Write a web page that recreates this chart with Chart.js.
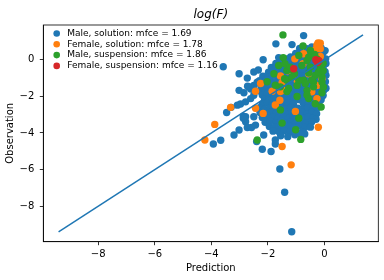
<!DOCTYPE html>
<html><head><meta charset="utf-8">
<script src="https://cdn.jsdelivr.net/npm/chart.js@4.4.1/dist/chart.umd.min.js"></script>
<style>html,body{margin:0;padding:0;background:#fff;}</style>
</head><body>
<canvas id="c" width="384" height="280"></canvas>
<script>
// ---- data ----
const seriesLabels = [
  'Male, solution: mfce = 1.69',
  'Female, solution: mfce = 1.78',
  'Male, suspension: mfce = 1.86',
  'Female, suspension: mfce = 1.16'
];
const seriesColors = ['#1f77b4', '#ff7f0e', '#2ca02c', '#d62728'];

const maleSolution = [
  [-3.58,-0.38],[-3.02,-0.76],[-2.73,-1.0],[-2.5,-0.67],[-2.34,-0.56],[-2.17,0.0],[-1.72,0.87],[-1.15,0.83],[-0.74,1.32],
  [-2.67,-1.49],[-2.5,-1.4],[-2.61,-1.6],[-2.38,-1.22],[-3.02,-1.67],[-2.72,-1.45],[-2.85,-1.8],
  [-3.08,-2.48],[-2.97,-2.42],[-2.79,-2.3],[-2.61,-2.12],[-2.5,-1.94],[-3.46,-2.88],[-3.3,-2.6],
  [-2.79,-3.11],[-2.79,-3.39],[-2.5,-3.11],[-2.44,-3.57],[-3.02,-3.84],[-3.2,-4.11],[-2.73,-3.7],[-2.58,-3.7],
  [-2.87,-3.08],[-2.87,-3.2],
  [-3.67,-4.4],[-3.93,-4.6],[-2.4,-4.47],[-2.2,-4.89],[-1.89,-5.01],[-2.15,-4.11],[-1.74,-4.38],[-1.74,-4.6],
  [-1.58,-5.97],[-1.41,-7.24],[-1.16,-9.4],
  [-0.88,0.62],[-0.62,0.6],[-0.45,0.7],[-0.3,0.55],[-0.12,0.65],[0.02,0.5],
  [-1.02,0.35],[-0.85,0.4],[-0.66,0.3],[-0.5,0.23],[-0.38,0.4],[-0.2,0.32],[-0.05,0.38],
  [-1.62,0.12],[-1.35,0.05],[-1.2,0.15],[-1.0,0.1],[-0.82,0.05],[-0.68,0.15],[-0.42,0.08],[-0.15,0.12],[0.04,0.05],
  [-1.72,-0.2],[-1.55,-0.1],[-1.38,-0.18],[-1.2,-0.1],[-1.05,-0.2],[-0.9,-0.12],[-0.7,-0.2],[-0.55,-0.1],[-0.4,-0.18],[-0.1,-0.15],[0.05,-0.2],
  [-1.88,-0.42],[-1.72,-0.35],[-1.55,-0.45],[-1.35,-0.38],[-1.2,-0.42],[-0.95,-0.35],[-0.8,-0.45],[-0.62,-0.4],[-0.45,-0.5],[-0.25,-0.4],[-0.05,-0.45],
  [-1.98,-0.68],[-1.8,-0.6],[-1.62,-0.7],[-1.45,-0.62],[-1.25,-0.7],[-1.05,-0.65],[-0.9,-0.7],[-0.75,-0.6],[-0.55,-0.68],[-0.4,-0.62],[-0.2,-0.7],[0.02,-0.65],
  [-2.18,-0.9],[-2.0,-0.95],[-1.85,-0.85],[-1.65,-0.95],[-1.45,-0.88],[-1.3,-0.95],[-1.1,-0.85],[-0.95,-0.95],[-0.78,-0.88],[-0.6,-0.95],[-0.42,-0.85],[-0.25,-0.95],[-0.1,-0.9],[0.05,-0.85],
  [-2.3,-1.15],[-2.12,-1.2],[-1.92,-1.1],[-1.75,-1.2],[-1.55,-1.12],[-1.4,-1.2],[-1.2,-1.1],[-1.02,-1.2],[-0.85,-1.12],[-0.65,-1.2],[-0.5,-1.1],[-0.3,-1.18],[-0.15,-1.12],[0.03,-1.2],
  [-2.25,-1.42],[-2.05,-1.35],[-1.88,-1.45],[-1.7,-1.38],[-1.5,-1.45],[-1.35,-1.35],[-1.15,-1.45],[-0.98,-1.35],[-0.8,-1.42],[-0.6,-1.4],[-0.42,-1.35],[-0.25,-1.45],[-0.08,-1.38],[0.05,-1.55],
  [-2.3,-1.7],[-2.12,-1.62],[-1.95,-1.7],[-1.78,-1.6],[-1.6,-1.7],[-1.42,-1.62],[-1.25,-1.7],[-1.08,-1.62],[-0.9,-1.7],[-0.72,-1.62],[-0.55,-1.7],[-0.35,-1.62],[-0.18,-1.7],[-0.02,-1.65],
  [-2.2,-1.92],[-2.02,-1.85],[-1.85,-1.95],[-1.65,-1.88],[-1.48,-1.95],[-1.3,-1.85],[-1.12,-1.95],[-0.95,-1.88],[-0.78,-1.95],[-0.6,-1.85],[-0.42,-1.95],[-0.22,-1.88],[-0.05,-1.95],
  [-2.12,-2.15],[-1.95,-2.2],[-1.78,-2.1],[-1.6,-2.18],[-1.42,-2.12],[-1.25,-2.2],[-1.08,-2.1],[-0.9,-2.18],[-0.72,-2.12],[-0.5,-2.2],[-0.32,-2.12],[-0.12,-2.18],
  [-2.2,-2.42],[-2.02,-2.35],[-1.85,-2.45],[-1.65,-2.38],[-1.45,-2.45],[-1.28,-2.35],[-1.1,-2.42],[-0.75,-2.38],[-0.58,-2.45],[-0.4,-2.35],[-0.2,-2.42],
  [-2.3,-2.62],[-2.12,-2.7],[-1.92,-2.62],[-1.75,-2.7],[-1.55,-2.62],[-1.38,-2.7],[-1.2,-2.62],[-0.95,-2.65],[-0.78,-2.7],[-0.6,-2.62],[-0.42,-2.7],[-0.25,-2.62],
  [-2.28,-2.88],[-2.1,-2.95],[-1.92,-2.88],[-1.72,-2.95],[-1.55,-2.88],[-1.35,-2.95],[-1.15,-2.88],[-0.98,-2.95],[-0.8,-2.88],[-0.62,-2.95],[-0.45,-2.88],[-0.28,-2.95],
  [-2.2,-3.15],[-2.0,-3.2],[-1.82,-3.12],[-1.65,-3.2],[-1.45,-3.12],[-1.28,-3.2],[-1.1,-3.12],[-0.75,-3.2],[-0.58,-3.12],[-0.42,-3.2],[-0.3,-3.25],
  [-2.1,-3.42],[-1.92,-3.35],[-1.72,-3.45],[-1.55,-3.35],[-1.35,-3.45],[-1.18,-3.38],[-1.0,-3.45],[-0.82,-3.38],[-0.65,-3.45],[-0.45,-3.38],
  [-1.95,-3.65],[-1.78,-3.7],[-1.6,-3.62],[-1.42,-3.7],[-1.25,-3.62],[-1.08,-3.7],[-0.9,-3.62],[-0.7,-3.7],[-0.5,-3.68],
  [-1.82,-3.9],[-1.6,-3.95],[-1.42,-3.88],[-1.22,-3.95],[-1.02,-3.88],[-0.78,-3.95],[-0.7,-4.05],
  [-1.55,-4.15],[-1.3,-4.2],[-1.05,-4.1],[-0.85,-4.05]
];
const femaleSolution = [
  [-4.23,-4.38],[-3.88,-3.53],[-3.32,-2.6],[-2.44,-1.72],[-2.44,-2.65],[-2.17,-2.93],[-2.26,-1.3],[-1.5,-4.74],[-1.18,-5.74],
  [-0.22,-3.69],[-0.27,-2.12],[-1.03,-2.82],[-1.74,-2.47],[-1.58,-2.21],[-1.85,-1.72],[-1.56,-1.74],[-1.44,-1.67],[-1.05,0.05],
  [-0.23,0.92],[-0.15,0.9],[-0.27,0.8],[-0.33,0.54],[-0.15,0.6],[-0.15,0.18],[-0.74,0.33],[-1.56,-0.88],[-1.5,-1.25],
  [-0.97,-1.12],[-0.56,-0.76],[-0.09,-1.03],[-0.27,-1.4],[-0.76,-0.22],[-1.3,-0.6],[-0.45,-1.75]
];
const maleSuspension = [
  [-1.47,1.36],[-0.76,0.75],[-1.46,0.12],[-1.62,-0.31],[-1.4,-0.22],[-1.33,-0.58],[-1.27,-0.54],[-1.79,-0.76],[-2.03,-1.2],
  [-1.33,-1.12],[-0.97,-1.4],[-0.74,-1.12],[-0.39,-1.22],[-0.04,-1.49],[-0.09,-0.94],[-0.62,-0.04],[-0.5,-0.4],[-0.15,-0.22],
  [-0.56,0.14],[-0.27,0.05],[-0.35,0.29],[-0.5,0.51],[-0.91,0.24],[-1.21,-0.4],[-1.06,-0.76],[-0.8,-0.31],[-0.56,-0.72],
  [-0.33,-0.85],[-0.21,-0.67],[-0.15,-0.49],[-0.45,-1.12],[-0.68,-1.3],[-0.91,-1.12],[-1.15,-0.94],[-1.41,-1.03],[-1.27,-1.57],
  [-1.56,-1.48],[-1.74,-1.39],[-0.62,-1.67],[-0.39,-1.48],[-0.09,-1.21],[-1.33,-1.74],[-0.97,-2.01],[-0.62,-1.92],[-0.09,-1.8],
  [-0.56,-2.12],[-0.33,-2.4],[-0.12,-2.58],[-1.56,-2.74],[-0.91,-3.19],[-1.5,-3.46],[-1.02,-3.82],[-0.84,-4.35],[-2.38,-4.38],
  [-0.05,-0.6],[-0.05,-0.2]
];
const femaleSuspension = [[-1.09,-0.49],[-0.31,0.0],[-0.25,-0.15],[-0.2,-0.05]];

const identityX = [-9.4, 1.36];
const identityY = [-9.4, 1.36];

const xRange = [-9.94, 1.9];
const yRange = [-9.94, 1.9];
const xTicks = [-8, -6, -4, -2, 0];
const yTicks = [-8, -6, -4, -2, 0];
const titleText = 'log(F)';
const xTitle = 'Prediction';
const yTitle = 'Observation';

// ---- chart ----
const FAM = '"DejaVu Sans", sans-serif';
const toPts = arr => arr.map(p => ({x: p[0], y: p[1]}));
const fmt = v => String(v).replace('-', '\u2212');

const seriesData = [maleSolution, femaleSolution, maleSuspension, femaleSuspension];
const datasets = seriesData.map((d, i) => ({
  label: seriesLabels[i],
  data: toPts(d),
  backgroundColor: seriesColors[i],
  borderColor: seriesColors[i],
  borderWidth: 0,
  pointRadius: 3.7,
  pointHoverRadius: 3.7,
  order: 5 - i
}));
datasets.push({
  label: 'identity',
  data: identityX.map((x, i) => ({x: x, y: identityY[i]})),
  showLine: true,
  borderColor: '#1f77b4',
  borderWidth: 1.5,
  pointRadius: 0,
  fill: false,
  order: 0
});

const framePlugin = {
  id: 'frameLegend',
  afterDraw(chart) {
    const {ctx, chartArea: a} = chart;
    ctx.save();
    ctx.strokeStyle = '#000';
    ctx.lineWidth = 0.8;
    ctx.strokeRect(a.left, a.top, a.right - a.left, a.bottom - a.top);
    // legend (upper left, inside axes)
    ctx.font = '9px ' + FAM;
    ctx.textBaseline = 'middle';
    ctx.textAlign = 'left';
    for (let i = 0; i < 4; i++) {
      const ds = chart.data.datasets[i];
      const cy = a.top + 8.5 + i * 10.8;
      ctx.fillStyle = ds.backgroundColor;
      ctx.beginPath();
      ctx.arc(a.left + 13.4, cy, 3.3, 0, Math.PI * 2);
      ctx.fill();
      ctx.fillStyle = '#000';
      ctx.fillText(ds.label, a.left + 24, cy);
    }
    ctx.restore();
  }
};

new Chart(document.getElementById('c'), {
  type: 'scatter',
  data: {datasets},
  options: {
    responsive: false,
    animation: false,
    events: [],
    layout: {padding: {left: 0, right: 5.7, top: 0, bottom: 0}},
    plugins: {
      legend: {display: false},
      tooltip: {enabled: false},
      title: {
        display: true, text: titleText, fullSize: false, align: 'center',
        color: '#000', font: {family: FAM, size: 12, style: 'italic', weight: 'normal', lineHeight: 1.2},
        padding: {top: 8, bottom: 2.6}
      }
    },
    scales: {
      x: {
        type: 'linear', min: xRange[0], max: xRange[1],
        afterBuildTicks: s => { s.ticks = xTicks.map(v => ({value: v})); },
        afterFit: s => { s.height = 38.3; },
        grid: {display: true, drawOnChartArea: false, drawTicks: true, tickLength: 3.5, color: '#000', lineWidth: 0.8},
        border: {display: true, color: '#000', width: 0.8},
        ticks: {padding: 3.5, color: '#000', font: {family: FAM, size: 10}, maxRotation: 0, autoSkip: false, callback: v => fmt(v)},
        title: {display: true, text: xTitle, color: '#000', font: {family: FAM, size: 10, lineHeight: 1.2}, padding: {top: 0, bottom: 6}}
      },
      y: {
        type: 'linear', min: yRange[0], max: yRange[1],
        afterBuildTicks: s => { s.ticks = yTicks.map(v => ({value: v})); },
        afterFit: s => { s.width = 43.3; },
        grid: {display: true, drawOnChartArea: false, drawTicks: true, tickLength: 3.5, color: '#000', lineWidth: 0.8},
        border: {display: true, color: '#000', width: 0.8},
        ticks: {padding: 5.5, color: '#000', font: {family: FAM, size: 10}, autoSkip: false, callback: v => fmt(v)},
        title: {display: true, text: yTitle, color: '#000', font: {family: FAM, size: 10, lineHeight: 1.2}, padding: {top: 4, bottom: 0}}
      }
    }
  },
  plugins: [framePlugin]
});
</script>
</body></html>
